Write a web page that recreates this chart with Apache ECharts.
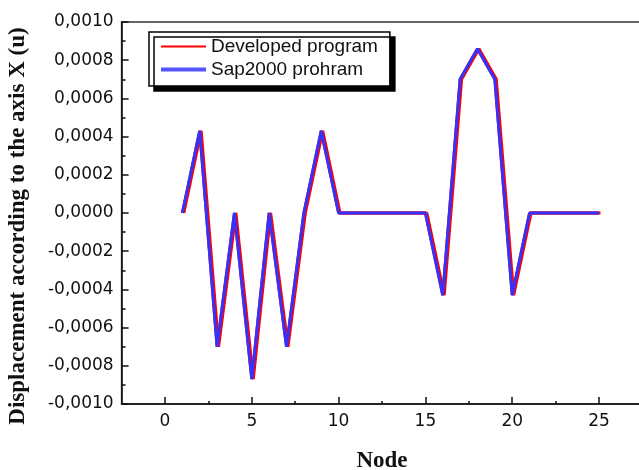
<!DOCTYPE html>
<html>
<head>
<meta charset="utf-8">
<script src="https://cdn.jsdelivr.net/npm/echarts@6/dist/echarts.min.js"></script>
<style>html,body{margin:0;padding:0;background:#fff;}#c{width:639px;height:470px;}</style>
</head>
<body>
<div id="c"></div>
<script>
const nodes = [1,2,3,4,5,6,7,8,9,10,11,12,13,14,15,16,17,18,19,20,21,22,23,24,25];
const developed = [0,0.00043,-0.0007,0,-0.00087,0,-0.0007,0,0.00043,0,0,0,0,0,0,-0.00043,0.0007,0.00086,0.0007,-0.00043,0,0,0,0,0];
const sap2000 = [0,0.00043,-0.0007,0,-0.00087,0,-0.0007,0,0.00043,0,0,0,0,0,0,-0.00043,0.0007,0.00086,0.0007,-0.00043,0,0,0,0,0];
const xMajorTicks = [0,5,10,15,20,25];
const xMinorTicks = [2.5,7.5,12.5,17.5,22.5];

const chart = echarts.init(document.getElementById('c'));
const fmt = v => (Math.abs(v) < 1e-12 ? '0.0000' : v.toFixed(4)).replace('.', ',');
const lbl = {fontFamily:'DejaVu Sans', fontSize:17, color:'#111'};
const thinIcon = 'path://M0,0L0.01,0L0,0.01Z M0,6L45,6L45,8L0,8Z M45,14L44.99,14L45,13.99Z';
const thickIcon = 'path://M0,0L0.01,0L0,0.01Z M0,5L45,5L45,9L0,9Z M45,14L44.99,14L45,13.99Z';
chart.setOption({
  animation:false,
  backgroundColor:'#fff',
  grid:{left:121.6, top:22, width:520.8, height:382, outerBoundsMode:'none', containLabel:false,
        show:true, borderColor:'#333', borderWidth:1.5, backgroundColor:'transparent'},
  legend:{
    orient:'vertical', left:149, top:32, padding:[5,12,7,12], itemGap:4, itemWidth:45, itemHeight:14,
    backgroundColor:'#fff', borderColor:'#000', borderWidth:1.5,
    shadowColor:'#000', shadowOffsetX:5, shadowOffsetY:5, shadowBlur:0.01,
    textStyle:{fontFamily:'Liberation Sans', fontSize:19, color:'#111'},
    data:[
      {name:'Developed program', icon:thinIcon, itemStyle:{color:'#ff0000', borderWidth:0, shadowColor:'transparent', shadowOffsetX:0, shadowBlur:0}},
      {name:'Sap2000 prohram', icon:thickIcon, itemStyle:{color:'#5555ff', borderWidth:0, shadowColor:'transparent', shadowOffsetX:0, shadowBlur:0}}
    ]
  },
  xAxis:[{
    type:'value', min:-2.5, max:27.5,
    name:'Node', nameLocation:'middle', nameGap:46,
    nameTextStyle:{fontFamily:'Liberation Serif', fontWeight:'bold', fontSize:23, color:'#111'},
    axisLine:{onZero:false, lineStyle:{color:'#111', width:1.5}},
    axisTick:{inside:true, length:7, customValues:xMajorTicks, lineStyle:{color:'#111', width:1.5}},
    axisLabel:Object.assign({margin:9, customValues:xMajorTicks}, lbl),
    splitLine:{show:false}
  },{
    type:'value', min:-2.5, max:27.5, position:'bottom',
    axisLine:{show:false, onZero:false},
    axisTick:{inside:true, length:3, customValues:xMinorTicks, lineStyle:{color:'#111', width:1.5}},
    axisLabel:{show:false},
    splitLine:{show:false}
  }],
  yAxis:{
    type:'value', min:-0.001, max:0.001, interval:0.0002,
    name:'Displacement according to the axis X (u)', nameLocation:'middle', nameGap:92,
    nameTextStyle:{fontFamily:'Liberation Serif', fontWeight:'bold', fontSize:23, color:'#111', padding:[0,26,0,0]},
    axisLine:{show:true, onZero:false, lineStyle:{color:'#111', width:1.5}},
    axisTick:{inside:true, length:7, lineStyle:{color:'#111', width:1.5}},
    minorTick:{show:true, splitNumber:2, length:4, lineStyle:{color:'#111', width:1.5}},
    axisLabel:Object.assign({margin:8, formatter:fmt}, lbl),
    splitLine:{show:false}
  },
  series:[
    {name:'Developed program', type:'line', xAxisIndex:0, showSymbol:false, symbol:'none',
     data:nodes.map((n,i)=>[n, developed[i]]),
     itemStyle:{color:'#ff0000'},
     lineStyle:{color:'#ff0000', width:3, shadowColor:'#ff0000', shadowOffsetX:1.5, shadowBlur:0.01}},
    {name:'Sap2000 prohram', type:'line', xAxisIndex:0, showSymbol:false, symbol:'none',
     data:nodes.map((n,i)=>[n, sap2000[i]]),
     itemStyle:{color:'#3333ff'},
     lineStyle:{color:'#3333ff', width:3}}
  ]
});
</script>
</body>
</html>
